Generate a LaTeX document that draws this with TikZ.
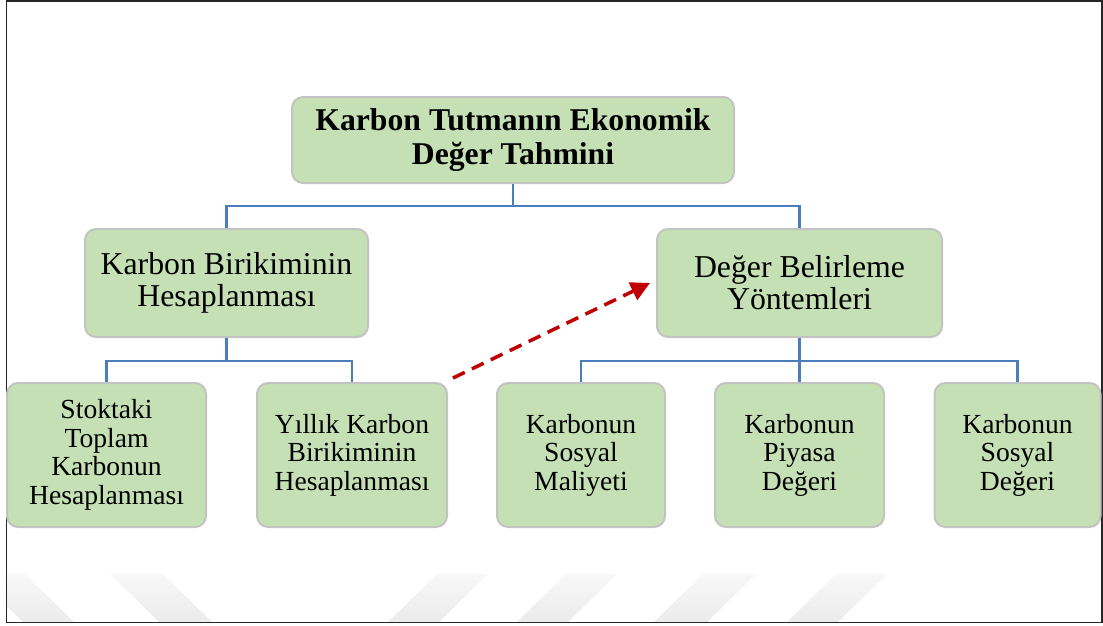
\documentclass[tikz,border=0pt]{standalone}
\usepackage{fontspec}
\setmainfont{Liberation Serif}
\usetikzlibrary{arrows.meta}
\definecolor{boxfill}{HTML}{C5E0B4}
\definecolor{boxline}{HTML}{C3C3C3}
\definecolor{connblue}{HTML}{4A7EBB}
\definecolor{arrowred}{HTML}{C00000}
\definecolor{wmgray}{HTML}{EBEBEB}
\definecolor{wmtop}{HTML}{F8F8F8}
\begin{document}
\begin{tikzpicture}[x=1pt,y=-1pt,
  box/.style={draw=boxline, line width=2pt, fill=boxfill, rounded corners=11pt,
    align=center, inner sep=0pt, anchor=center},
  topbox/.style={box, minimum width=442pt, minimum height=86pt,
    font=\fontsize{31.7}{33.3}\selectfont\bfseries},
  midbox/.style={box, minimum height=108pt,
    font=\fontsize{31.8}{32}\selectfont},
  lowbox/.style={box, minimum height=144pt,
    font=\fontsize{27.6}{28.6}\selectfont},
  conn/.style={draw=connblue, line width=2.2pt},
  dasharrow/.style={draw=arrowred, line width=3.5pt, dash pattern=on 13pt off 8pt,
    -{Triangle[length=19pt,width=19pt]}},
  stripe/.style={top color=wmtop, bottom color=wmgray, draw=none}
  ]
\useasboundingbox (0,0) rectangle (1103,625);
% watermark stripes
\begin{scope}
  \clip (7,2) rectangle (1101,622);
  \shade[stripe] (-26,574) -- (25,574) -- (74,622) -- (23,622) -- cycle;
  \shade[stripe] (110,574) -- (163,574) -- (212,622) -- (159,622) -- cycle;
  \shade[stripe] (437,574) -- (488,574) -- (439,622) -- (388,622) -- cycle;
  \shade[stripe] (566,574) -- (617,574) -- (568,622) -- (517,622) -- cycle;
  \shade[stripe] (703,574) -- (756,574) -- (707,622) -- (654,622) -- cycle;
  \shade[stripe] (836,574) -- (887,574) -- (838,622) -- (787,622) -- cycle;
\end{scope}
% frame
\draw[line width=1.6pt, draw=black!85] (6.5,1) rectangle (1101.8,622.5);

% nodes
\node[topbox] (top) at (513,140) {Karbon Tutmanın Ekonomik\\Değer Tahmini};
\node[midbox, minimum width=283pt] (l2a) at (226.5,283) {Karbon Birikiminin\\Hesaplanması};
\node[midbox, minimum width=285pt] (l2b) at (799.5,283) {Değer Belirleme\\Yöntemleri};
\node[lowbox, minimum width=199pt] (b1) at (106.5,455) {Stoktaki\\Toplam\\Karbonun\\Hesaplanması};
\node[lowbox, minimum width=190pt] (b2) at (352,455) {Yıllık Karbon\\Birikiminin\\Hesaplanması};
\node[lowbox, minimum width=168pt] (b3) at (581,455) {Karbonun\\Sosyal\\Maliyeti};
\node[lowbox, minimum width=169pt] (b4) at (799.5,455) {Karbonun\\Piyasa\\Değeri};
\node[lowbox, minimum width=166pt] (b5) at (1017.5,455) {Karbonun\\Sosyal\\Değeri};

% connectors
\coordinate (j1) at (513,206);
\coordinate (j2) at (226.5,361);
\coordinate (j3) at (799.5,361);
\draw[conn] (top.south) -- (j1);
\draw[conn] (l2a.north) |- (j1) -| (l2b.north);
\draw[conn] (l2a.south) -- (j2);
\draw[conn] (b1.north) |- (j2) -| (b2.north);
\draw[conn] (l2b.south) -- (j3);
\draw[conn] (b3.north) |- (j3) -| (b5.north);
\draw[conn] (j3) -- (b4.north);

% dashed arrow
\draw[dasharrow] ([shift={(5,-4)}]b2.north east) -- ([xshift=-6pt]l2b.west);
\end{tikzpicture}
\end{document}
